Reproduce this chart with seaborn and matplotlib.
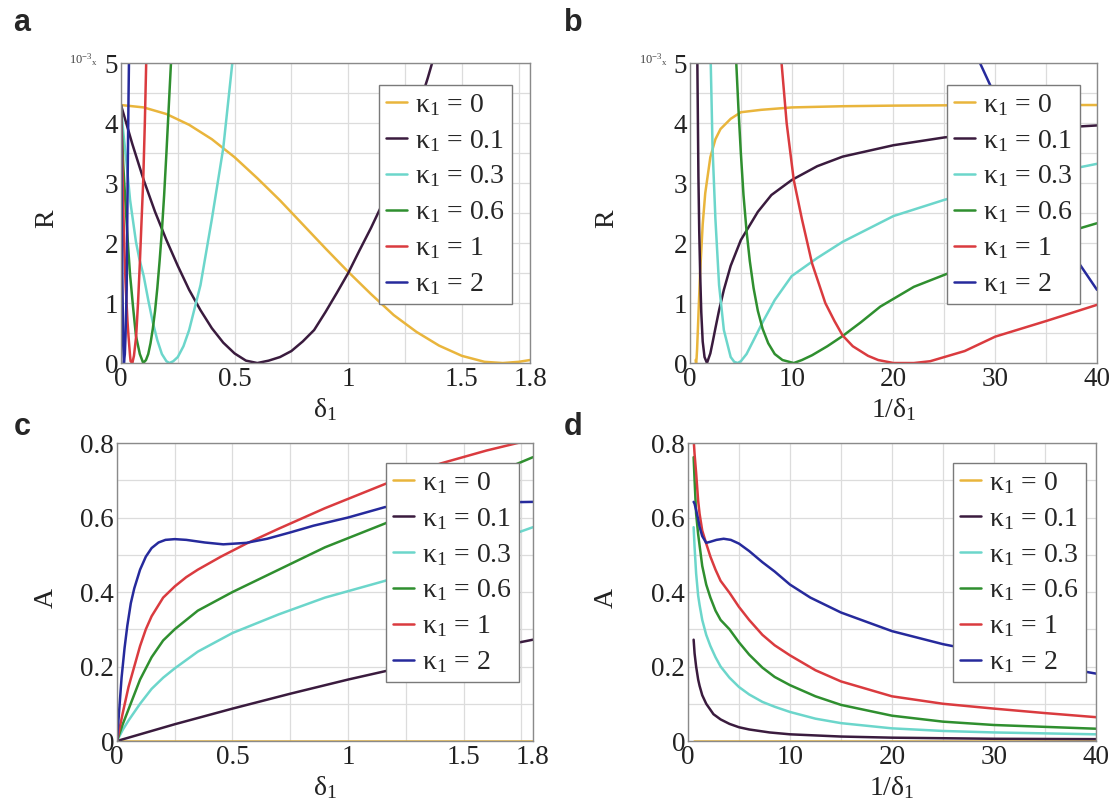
import numpy as np
import pandas as pd
import seaborn as sns
import matplotlib.pyplot as plt
from matplotlib.lines import Line2D

# curve labels and colours (kappa_1 values)
kappas = ["0", "0.1", "0.3", "0.6", "1", "2"]
colors = ["#E9B53C", "#3A1B3E", "#6CD6CB", "#2F8F2F", "#DA3B3F", "#262A9C"]

# ---- panel a : R (x1e-3) vs delta_1
a_k0_x = [0, 0.1, 0.2, 0.3, 0.4, 0.5, 0.6, 0.7, 0.8, 0.9, 1.0, 1.1, 1.2, 1.3, 1.4, 1.5, 1.6, 1.68, 1.75, 1.8]
a_k0_y = [4.30, 4.26, 4.15, 3.97, 3.73, 3.43, 3.08, 2.71, 2.31, 1.91, 1.52, 1.15, 0.80, 0.52, 0.29, 0.12, 0.02, 0.0, 0.02, 0.05]
a_k01_x = [0, 0.05, 0.1, 0.15, 0.2, 0.25, 0.3, 0.35, 0.4, 0.45, 0.5, 0.55, 0.6, 0.65, 0.7, 0.75, 0.8,
           0.85, 0.9, 0.95, 1.0, 1.05, 1.1, 1.15, 1.2, 1.25, 1.3, 1.35, 1.4]
a_k01_y = [4.3, 3.65, 3.05, 2.52, 2.05, 1.62, 1.22, 0.88, 0.58, 0.34, 0.16, 0.04, 0.0, 0.04, 0.1, 0.2, 0.36,
           0.55, 0.85, 1.17, 1.5, 1.88, 2.25, 2.65, 3.1, 3.6, 4.15, 4.75, 5.4]
a_k03_x = [0, 0.01, 0.025, 0.04, 0.05, 0.066, 0.08, 0.1, 0.12, 0.14, 0.16, 0.18, 0.2, 0.213, 0.23, 0.25, 0.275,
           0.3, 0.35, 0.4, 0.45, 0.49, 0.5]
a_k03_y = [4.3, 3.85, 3.32, 2.72, 2.45, 2.02, 1.75, 1.45, 1.05, 0.68, 0.38, 0.15, 0.03, 0.0, 0.03, 0.1, 0.28,
           0.55, 1.3, 2.4, 3.58, 5.0, 5.4]
a_k06_x = [0, 0.01, 0.025, 0.033, 0.04, 0.045, 0.053, 0.066, 0.083, 0.098, 0.11, 0.12, 0.13, 0.14, 0.15, 0.16,
           0.17, 0.18, 0.19, 0.2, 0.21, 0.22, 0.225]
a_k06_y = [4.3, 3.3, 2.33, 1.85, 1.47, 1.27, 0.94, 0.45, 0.15, 0.0, 0.05, 0.15, 0.33, 0.57, 0.87, 1.25,
           1.7, 2.2, 2.8, 3.5, 4.25, 5.0, 5.4]
a_k1_x = [0, 0.005, 0.01, 0.015, 0.02, 0.025, 0.0286, 0.0333, 0.04, 0.0424, 0.05, 0.0571, 0.0667, 0.075,
          0.083, 0.0909, 0.098, 0.105, 0.111, 0.115]
a_k1_y = [4.3, 3.5, 2.6, 1.9, 1.35, 0.97, 0.7, 0.44, 0.12, 0.03, 0.0, 0.12, 0.44, 1.0,
          1.66, 2.4, 3.05, 4.0, 5.0, 5.6]
a_k2_x = [0, 0.003, 0.006, 0.01, 0.013, 0.017, 0.02, 0.025, 0.0263, 0.0278, 0.0294, 0.0313, 0.0333, 0.0351, 0.037]
a_k2_y = [4.3, 2.8, 1.4, 0.3, 0.0, 0.15, 0.45, 1.22, 1.72, 2.4, 3.07, 3.75, 4.45, 5.0, 5.6]

# ---- panel b : R (x1e-3) vs 1/delta_1
b_k0_x = [0.556, 0.6, 0.65, 0.7, 0.8, 0.9, 1.0, 1.25, 1.5, 2, 2.5, 3, 4, 5, 7, 10, 15, 20, 30, 40]
b_k0_y = [0.05, 0.0, 0.08, 0.23, 0.66, 1.10, 1.52, 2.31, 2.83, 3.43, 3.73, 3.90, 4.07, 4.18, 4.22, 4.26, 4.28, 4.29, 4.30, 4.30]
b_k01_x = [0.70, 0.72, 0.77, 0.83, 0.91, 1.0, 1.11, 1.25, 1.43, 1.67, 2.0, 2.22, 2.5, 2.86, 3.33, 4, 5,
           6.67, 8, 10, 12.5, 15, 20, 25, 30, 35, 40]
b_k01_y = [5.5, 5.1, 4.2, 3.1, 2.2, 1.5, 0.85, 0.36, 0.1, 0.0, 0.16, 0.34, 0.58, 0.88, 1.22, 1.62, 2.05,
           2.52, 2.8, 3.05, 3.28, 3.44, 3.63, 3.76, 3.85, 3.91, 3.96]
b_k03_x = [2.0, 2.04, 2.13, 2.22, 2.5, 2.86, 3.33, 4, 4.35, 4.69, 5, 5.56, 6.25, 7.14, 8.33, 10, 12.5, 15, 20,
           25, 30, 35, 40]
b_k03_y = [5.2, 5.0, 4.3, 3.58, 2.4, 1.3, 0.55, 0.1, 0.02, 0.0, 0.03, 0.15, 0.38, 0.68, 1.05, 1.45, 1.75, 2.02,
           2.45, 2.72, 2.95, 3.15, 3.32]
b_k06_x = [4.44, 4.55, 4.76, 5, 5.26, 5.56, 5.88, 6.25, 6.67, 7.14, 7.69, 8.33, 9.09, 10.2, 11, 12, 13.5, 15,
           16.8, 18.7, 22, 25, 30, 35, 40]
b_k06_y = [5.4, 5.0, 4.25, 3.5, 2.8, 2.2, 1.7, 1.25, 0.87, 0.57, 0.33, 0.15, 0.05, 0.0, 0.05, 0.13, 0.28, 0.45,
           0.68, 0.94, 1.27, 1.47, 1.8, 2.08, 2.33]
b_k1_x = [8.7, 9, 9.5, 10.2, 11, 12, 13.3, 14.2, 15, 16, 17.5, 18.5, 20, 22, 23.6, 25, 27, 30, 35, 40]
b_k1_y = [5.6, 5.0, 4.0, 3.05, 2.4, 1.66, 1.0, 0.7, 0.46, 0.28, 0.12, 0.05, 0.0, 0.0, 0.03, 0.1, 0.2, 0.44, 0.7, 0.97]
b_k2_x = [27.5, 28.5, 30, 32, 34, 36, 38, 40]
b_k2_y = [5.4, 5.0, 4.45, 3.75, 3.07, 2.35, 1.72, 1.22]

# ---- panel c : A vs delta_1
c_k0_x = [0, 0.9, 1.8]
c_k0_y = [0, 0, 0]
c_k01_x = [0, 0.1, 0.25, 0.5, 0.75, 1.0, 1.25, 1.5, 1.8]
c_k01_y = [0, 0.018, 0.045, 0.087, 0.127, 0.165, 0.2, 0.235, 0.272]
c_k03_x = [0, 0.025, 0.05, 0.1, 0.15, 0.2, 0.25, 0.35, 0.5, 0.7, 0.9, 1.16, 1.4, 1.6, 1.8]
c_k03_y = [0, 0.03, 0.055, 0.1, 0.14, 0.17, 0.195, 0.24, 0.29, 0.34, 0.385, 0.43, 0.485, 0.53, 0.574]
c_k06_x = [0, 0.025, 0.05, 0.1, 0.15, 0.2, 0.25, 0.35, 0.5, 0.7, 0.9, 1.16, 1.4, 1.6, 1.8]
c_k06_y = [0, 0.045, 0.085, 0.165, 0.225, 0.27, 0.3, 0.35, 0.4, 0.46, 0.52, 0.584, 0.655, 0.71, 0.762]
c_k1_x = [0, 0.025, 0.05, 0.075, 0.1, 0.125, 0.15, 0.2, 0.25, 0.3, 0.35, 0.45, 0.56, 0.7, 0.9, 1.16, 1.4, 1.6, 1.8]
c_k1_y = [0, 0.075, 0.145, 0.2, 0.255, 0.3, 0.335, 0.385, 0.415, 0.44, 0.46, 0.495, 0.53, 0.57, 0.625, 0.69,
          0.745, 0.78, 0.81]
c_k2_x = [0, 0.02, 0.033, 0.045, 0.06, 0.075, 0.1, 0.125, 0.15, 0.18, 0.21, 0.25, 0.3, 0.38, 0.46, 0.56, 0.65,
          0.75, 0.85, 1.0, 1.16, 1.4, 1.6, 1.8]
c_k2_y = [0, 0.17, 0.25, 0.31, 0.37, 0.41, 0.46, 0.495, 0.518, 0.533, 0.54, 0.542, 0.54, 0.533, 0.528, 0.532,
          0.543, 0.56, 0.578, 0.6, 0.628, 0.637, 0.64, 0.642]

# ---- panel d : A vs 1/delta_1
d_k0_x = [0.556, 20, 40]
d_k0_y = [0, 0, 0]
d_k01_x = [0.556, 0.65, 0.8, 1.0, 1.14, 1.4, 1.79, 2.5, 3.2, 4.07, 5, 6, 8, 10, 15, 20, 30, 40]
d_k01_y = [0.272, 0.235, 0.2, 0.165, 0.148, 0.123, 0.1, 0.072, 0.058, 0.046, 0.037, 0.031, 0.023, 0.018,
           0.012, 0.009, 0.006, 0.005]
d_k03_x = [0.556, 0.65, 0.8, 1.0, 1.14, 1.4, 1.79, 2.2, 2.7, 3.2, 4.07, 5, 6, 7.3, 8.5, 10, 12.5, 15, 20, 25, 30, 40]
d_k03_y = [0.574, 0.52, 0.45, 0.39, 0.365, 0.325, 0.285, 0.255, 0.225, 0.2, 0.17, 0.145, 0.125, 0.105, 0.092,
           0.078, 0.06, 0.048, 0.034, 0.027, 0.023, 0.018]
d_k06_x = [0.556, 0.65, 0.8, 1.0, 1.14, 1.4, 1.79, 2.2, 2.7, 3.2, 4.07, 5, 6, 7.3, 8.5, 10, 12.5, 15, 20, 25, 30, 40]
d_k06_y = [0.762, 0.7, 0.61, 0.555, 0.525, 0.47, 0.42, 0.385, 0.35, 0.325, 0.3, 0.265, 0.232, 0.197, 0.172,
           0.15, 0.12, 0.097, 0.068, 0.052, 0.043, 0.033]
d_k1_x = [0.556, 0.65, 0.8, 1.0, 1.14, 1.4, 1.79, 2.2, 2.7, 3.2, 4.07, 5, 6, 7.3, 8.5, 10, 12.5, 15, 20, 25,
          30, 35, 40]
d_k1_y = [0.81, 0.77, 0.72, 0.645, 0.61, 0.565, 0.53, 0.495, 0.46, 0.43, 0.398, 0.36, 0.325, 0.285, 0.257,
          0.23, 0.19, 0.16, 0.12, 0.1, 0.087, 0.075, 0.064]
d_k2_x = [0.556, 0.65, 0.8, 1.0, 1.14, 1.4, 1.79, 2.2, 2.8, 3.5, 4.2, 5, 6, 7.3, 8.5, 10, 12, 15, 20, 25, 30, 35, 40]
d_k2_y = [0.642, 0.637, 0.62, 0.595, 0.575, 0.55, 0.532, 0.535, 0.54, 0.543, 0.54, 0.53, 0.51, 0.48, 0.455,
          0.42, 0.385, 0.345, 0.295, 0.26, 0.233, 0.205, 0.181]


def frame(curves):
    parts = []
    for lab, xs, ys in curves:
        parts.append(pd.DataFrame({"x": xs, "y": ys, "k": lab}))
    return pd.concat(parts, ignore_index=True)


df_a = frame(zip(kappas, [a_k0_x, a_k01_x, a_k03_x, a_k06_x, a_k1_x, a_k2_x],
                 [a_k0_y, a_k01_y, a_k03_y, a_k06_y, a_k1_y, a_k2_y]))
df_b = frame(zip(kappas, [b_k0_x, b_k01_x, b_k03_x, b_k06_x, b_k1_x, b_k2_x],
                 [b_k0_y, b_k01_y, b_k03_y, b_k06_y, b_k1_y, b_k2_y]))
df_c = frame(zip(kappas, [c_k0_x, c_k01_x, c_k03_x, c_k06_x, c_k1_x, c_k2_x],
                 [c_k0_y, c_k01_y, c_k03_y, c_k06_y, c_k1_y, c_k2_y]))
df_d = frame(zip(kappas, [d_k0_x, d_k01_x, d_k03_x, d_k06_x, d_k1_x, d_k2_x],
                 [d_k0_y, d_k01_y, d_k03_y, d_k06_y, d_k1_y, d_k2_y]))

sns.set_theme(style="white")
plt.rcParams["font.family"] = ["Liberation Serif", "DejaVu Serif"]
plt.rcParams["mathtext.fontset"] = "custom"
plt.rcParams["mathtext.rm"] = "Liberation Serif"
plt.rcParams["mathtext.it"] = "Liberation Serif:italic"

fig = plt.figure(figsize=(11.17, 8.08), dpi=100)
ax_a = fig.add_axes([0.1083, 0.5507, 0.3662, 0.3713])
ax_b = fig.add_axes([0.6177, 0.5507, 0.3644, 0.3713])
ax_c = fig.add_axes([0.1047, 0.0829, 0.3724, 0.3688])
ax_d = fig.add_axes([0.6159, 0.0829, 0.3653, 0.3688])

labels = ["κ$_1$ = " + k for k in kappas]
handles = [Line2D([], [], color=c, lw=1.8) for c in colors]

specs = [
    (ax_a, df_a, (0, 1.8), (0, 5), [0, 0.5, 1, 1.5, 1.8], ["0", "0.5", "1", "1.5", "1.8"],
     np.arange(0, 1.8, 0.25), [0, 1, 2, 3, 4, 5], ["0", "1", "2", "3", "4", "5"], np.arange(0, 5.01, 0.5),
     "δ$_1$", "R", 0.631, 0.927, -0.15),
    (ax_b, df_b, (0, 40), (0, 5), [0, 10, 20, 30, 40], ["0", "10", "20", "30", "40"],
     np.arange(0, 40.1, 5), [0, 1, 2, 3, 4, 5], ["0", "1", "2", "3", "4", "5"], np.arange(0, 5.01, 0.5),
     "1/δ$_1$", "R", 0.631, 0.927, -0.175),
    (ax_c, df_c, (0, 1.8), (0, 0.8), [0, 0.5, 1, 1.5, 1.8], ["0", "0.5", "1", "1.5", "1.8"],
     np.arange(0, 1.8, 0.25), [0, 0.2, 0.4, 0.6, 0.8], ["0", "0.2", "0.4", "0.6", "0.8"], np.arange(0, 0.81, 0.1),
     "δ$_1$", "A", 0.647, 0.933, -0.14),
    (ax_d, df_d, (0, 40), (0, 0.8), [0, 10, 20, 30, 40], ["0", "10", "20", "30", "40"],
     np.arange(0, 40.1, 5), [0, 0.2, 0.4, 0.6, 0.8], ["0", "0.2", "0.4", "0.6", "0.8"], np.arange(0, 0.81, 0.1),
     "1/δ$_1$", "A", 0.65, 0.933, -0.17),
]

for ax, df, xl, yl, xt, xtl, xg, yt, ytl, yg, xlab, ylab, lx, ly, ylx in specs:
    sns.lineplot(data=df, x="x", y="y", hue="k", hue_order=kappas, palette=colors,
                 estimator=None, sort=False, lw=1.8, legend=False, ax=ax)
    ax.set_xlim(*xl)
    ax.set_ylim(*yl)
    ax.set_xticks(xg, minor=True)
    ax.set_yticks(yg, minor=True)
    ax.set_xticks(xt)
    ax.set_xticklabels(xtl)
    ax.set_yticks(yt)
    ax.set_yticklabels(ytl)
    ax.grid(which="both", color="#dcdcdc", lw=0.9)
    ax.set_axisbelow(True)
    ax.tick_params(which="both", length=0, labelsize=19.5, colors="#222222")
    ax.tick_params(axis="y", pad=2)
    ax.tick_params(axis="x", pad=3)
    for s in ax.spines.values():
        s.set_color("#8a8a8a")
        s.set_linewidth(1.0)
    ax.set_xlabel(xlab, fontsize=20, labelpad=3, color="#222222")
    ax.set_ylabel(ylab, fontsize=20, color="#222222")
    ax.yaxis.set_label_coords(ylx, 0.48)
    ax.legend(handles, labels, loc="upper left", bbox_to_anchor=(lx, ly), borderaxespad=0,
              fontsize=20, handlelength=0.75, handletextpad=0.3, labelspacing=0.36, borderpad=0.25,
              frameon=True, fancybox=False, edgecolor="#7a7a7a", framealpha=1)

for ax in (ax_a, ax_b):
    ax.text(-0.056, 1.01, "10$^{-3}$$_{\\mathrm{x}}$", transform=ax.transAxes, ha="right", va="center",
            fontsize=9, color="#444444")

for lab, x, y in [("a", 0.012, 0.99), ("b", 0.505, 0.99), ("c", 0.012, 0.49), ("d", 0.505, 0.49)]:
    fig.text(x, y, lab, fontsize=22, fontweight="bold", family="Liberation Sans", va="top", ha="left")

fig.savefig("out.png", dpi=100)
